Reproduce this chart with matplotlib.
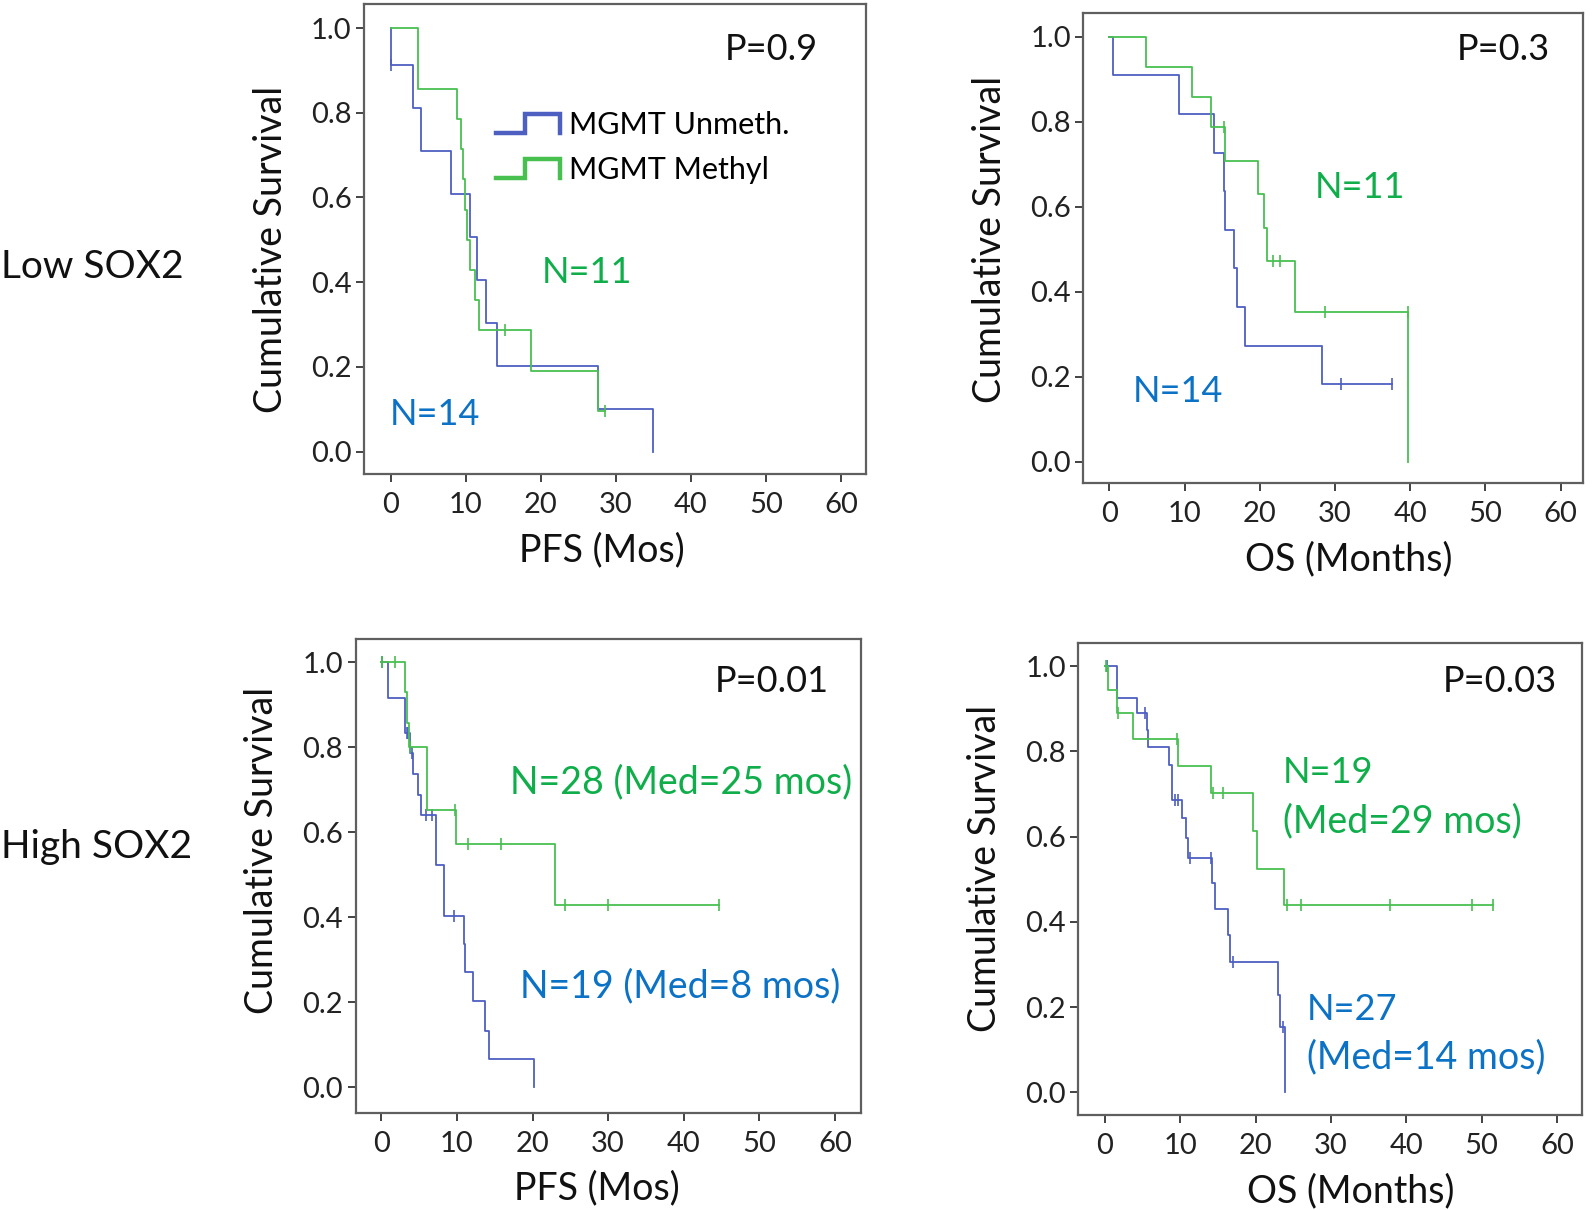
"""
Kaplan-Meier curves: MGMT status within low / high SOX2 groups
"""
import numpy as np
import matplotlib
matplotlib.use("Agg")
import matplotlib.pyplot as plt
from matplotlib.lines import Line2D
from matplotlib.legend_handler import HandlerBase

plt.rcParams['font.family'] = ['Lato', 'DejaVu Sans']

W, H = 1594, 1210
BLUE = '#4e5fc2'
GREEN = '#48c050'
BLUE_TXT = '#0b72c6'
GREEN_TXT = '#0fae4a'

# ---- data: step times, survival after each step, censor times ----
# Low SOX2, PFS
a_unmeth_t = [0.0, 3.03, 4.0, 8.0, 10.57, 11.46, 12.66, 14.12, 27.57, 35.0]
a_unmeth_s = [0.912, 0.811, 0.709, 0.608, 0.507, 0.406, 0.304, 0.203, 0.101, 0.0]
a_unmeth_c = [0.0]
a_meth_t = [3.69, 8.88, 9.37, 9.64, 9.95, 10.21, 10.57, 11.24, 11.73, 18.65, 27.57]
a_meth_s = [0.857, 0.786, 0.714, 0.643, 0.571, 0.5, 0.429, 0.357, 0.286, 0.19, 0.095]
a_meth_c = [15.23, 28.55]

# Low SOX2, OS
b_unmeth_t = [0.53, 9.31, 13.96, 15.3, 15.4, 16.62, 16.94, 18.05, 28.24]
b_unmeth_s = [0.909, 0.818, 0.727, 0.636, 0.545, 0.455, 0.364, 0.273, 0.182]
b_unmeth_c = [30.77, 37.55]
b_meth_t = [4.84, 10.96, 13.48, 15.39, 19.81, 20.61, 20.93, 24.69, 39.76]
b_meth_s = [0.929, 0.857, 0.786, 0.707, 0.629, 0.55, 0.471, 0.353, 0.0]
b_meth_c = [15.2, 21.8, 22.7, 28.68, 39.7]

# High SOX2, PFS
c_unmeth_t = [0.93, 3.13, 3.8, 4.23, 4.89, 5.21, 7.2, 7.28, 8.33, 10.95, 11.02, 12.17, 13.72, 14.29, 20.24]
c_unmeth_s = [0.915, 0.833, 0.786, 0.738, 0.687, 0.64, 0.58, 0.522, 0.404, 0.338, 0.271, 0.204, 0.133, 0.067, 0.0]
c_unmeth_c = [0.13, 3.36, 3.57, 4.02, 5.91, 6.67, 9.62]
c_meth_t = [3.13, 3.36, 3.7, 6.08, 9.88, 22.98]
c_meth_s = [0.929, 0.857, 0.8, 0.652, 0.572, 0.429]
c_meth_c = [0.13, 1.81, 3.75, 9.75, 11.51, 15.79, 24.3, 30.03, 44.71]

# High SOX2, OS
d_unmeth_t = [1.64, 4.2, 5.53, 5.75, 8.54, 8.85, 10.18, 10.76, 11.07, 14.17, 14.61, 16.29, 16.6, 22.93, 23.24, 23.9]
d_unmeth_s = [0.925, 0.89, 0.85, 0.81, 0.768, 0.686, 0.643, 0.596, 0.549, 0.491, 0.43, 0.369, 0.307, 0.228, 0.154, 0.0]
d_unmeth_c = [0.22, 5.31, 9.3, 9.74, 11.29, 14.03, 17.04, 23.68]
d_meth_t = [0.44, 1.64, 3.76, 9.65, 14.03, 19.7, 20.14, 23.8]
d_meth_s = [0.944, 0.89, 0.829, 0.766, 0.702, 0.613, 0.525, 0.439]
d_meth_c = [0.13, 1.77, 9.52, 14.38, 15.71, 24.13, 26.03, 37.85, 48.78, 51.57]

x_ticks = [0, 10, 20, 30, 40, 50, 60]
y_ticks = [0.0, 0.2, 0.4, 0.6, 0.8, 1.0]


class StepHandler(HandlerBase):
    # legend icon drawn as a little survival step
    def create_artists(self, legend, orig_handle, xdescent, ydescent,
                       width, height, fontsize, trans):
        x0, y0 = -xdescent, -ydescent
        xs = [x0, x0 + 0.45 * width, x0 + 0.45 * width, x0 + width, x0 + width]
        ys = [y0, y0, y0 + height, y0 + height, y0]
        return [Line2D(xs, ys, color=orig_handle.get_color(), lw=3.2,
                       solid_joinstyle='miter', transform=trans)]


def surv_at(t, s, q):
    levels = np.concatenate([[1.0], s])
    return levels[np.searchsorted(t, q, side='right')]


def draw_km(ax, t, s, c, color):
    t = np.asarray(t, float)
    s = np.asarray(s, float)
    end = max(t[-1], max(c)) if c else t[-1]
    x = np.concatenate([[0.0], t, [end]])
    y = np.concatenate([[1.0], s, [s[-1]]])
    line, = ax.step(x, y, where='post', color=color, lw=1.3)
    if c:
        ax.plot(c, surv_at(t, s, c), ls='none', marker='|', ms=8, mew=1.2, color=color)
    return line


def px_rect(l, t, r, b):
    return [l / W, 1 - b / H, (r - l) / W, (b - t) / H]


fig = plt.figure(figsize=(W / 100, H / 100), dpi=100)

panels = [
    # box in pixels, xlim, ylim, x label, label offsets (x frac, y frac), curves
    ((364.1, 4, 866.2, 474.4), (-3.53, 63.33), (-0.054, 1.057), 'PFS (Mos)', (0.474, 0.479),
     (a_unmeth_t, a_unmeth_s, a_unmeth_c), (a_meth_t, a_meth_s, a_meth_c)),
    ((1083.3, 12.7, 1583.3, 483.3), (-3.46, 63.0), (-0.051, 1.056), 'OS (Months)', (0.53, 0.519),
     (b_unmeth_t, b_unmeth_s, b_unmeth_c), (b_meth_t, b_meth_s, b_meth_c)),
    ((355.5, 639.3, 860.7, 1112.7), (-3.41, 63.4), (-0.060, 1.054), 'PFS (Mos)', (0.478, 0.555),
     (c_unmeth_t, c_unmeth_s, c_unmeth_c), (c_meth_t, c_meth_s, c_meth_c)),
    ((1078.3, 642.7, 1581.7, 1115), (-3.55, 63.3), (-0.053, 1.055), 'OS (Months)', (0.542, 0.521),
     (d_unmeth_t, d_unmeth_s, d_unmeth_c), (d_meth_t, d_meth_s, d_meth_c)),
]

axes = []
for box, xlim, ylim, xlabel, lab_pos, unmeth, meth in panels:
    ax = fig.add_axes(px_rect(*box))
    lu = draw_km(ax, *unmeth, BLUE)
    lm = draw_km(ax, *meth, GREEN)
    ax.set_xlim(*xlim)
    ax.set_ylim(*ylim)
    ax.set_xticks(x_ticks)
    ax.set_yticks(y_ticks)
    ax.set_yticklabels([f'{v:.1f}' for v in y_ticks])
    ax.tick_params(axis='both', direction='out', length=6, width=1.2, colors='#222',
                   labelsize=21)
    ax.tick_params(axis='x', pad=7)
    ax.tick_params(axis='y', pad=3)
    for sp in ax.spines.values():
        sp.set_color('#5f5f5f')
        sp.set_linewidth(1.6)
    ax.set_xlabel(xlabel, fontsize=27, labelpad=10, color='#111')
    ax.set_ylabel('Cumulative Survival', fontsize=27, labelpad=16, color='#111')
    ax.xaxis.label.set_x(lab_pos[0])
    ax.yaxis.label.set_y(lab_pos[1])
    axes.append((ax, lu, lm))

ax0, lu0, lm0 = axes[0]
ax0.legend([lu0, lm0], ['MGMT Unmeth.', 'MGMT Methyl'], handler_map={Line2D: StepHandler()},
           loc='upper left', bbox_to_anchor=(0.262, 0.772), frameon=False, fontsize=22,
           handlelength=2.1, handleheight=0.6, handletextpad=0.3, labelspacing=0.55,
           borderpad=0, borderaxespad=0)


def put(x, y, s, color='#111', size=26):
    fig.text(x / W, 1 - y / H, s, color=color, fontsize=size, ha='left', va='baseline')


put(725, 60, 'P=0.9')
put(542, 283, 'N=11', GREEN_TXT)
put(390, 425, 'N=14', BLUE_TXT)

put(1457, 60, 'P=0.3')
put(1315, 198, 'N=11', GREEN_TXT)
put(1133, 402, 'N=14', BLUE_TXT)

put(715, 692, 'P=0.01')
put(510, 793, 'N=28 (Med=25 mos)', GREEN_TXT, 27)
put(520, 997, 'N=19 (Med=8 mos)', BLUE_TXT, 27)

put(1443, 692, 'P=0.03')
put(1283, 783, 'N=19', GREEN_TXT)
put(1283, 832, '(Med=29 mos)', GREEN_TXT, 27)
put(1307, 1020, 'N=27', BLUE_TXT)
put(1307, 1068, '(Med=14 mos)', BLUE_TXT, 27)

put(1, 278, 'Low SOX2', size=28)
put(1, 858, 'High SOX2', size=28)

fig.savefig('out.png', dpi=100)
